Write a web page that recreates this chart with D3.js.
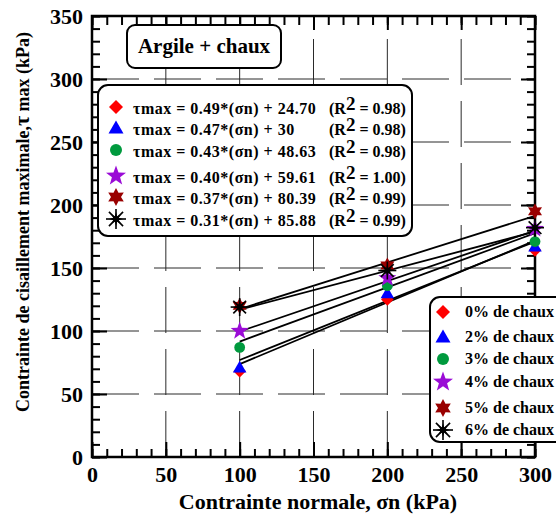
<!DOCTYPE html>
<html>
<head>
<meta charset="utf-8">
<script src="https://cdn.jsdelivr.net/npm/d3@7"></script>
<style>
  html, body { margin: 0; padding: 0; background: #fff; }
  svg { display: block; }
  text { font-family: "Liberation Serif", "Times New Roman", serif; font-weight: bold; fill: #000; }
</style>
</head>
<body>
<svg id="chart" width="556" height="528"></svg>
<script>
// Normal stress levels (kPa)
const sigmaN = [100, 200, 300];

// Lime contents
const limeLabels = ["0% de chaux", "2% de chaux", "3% de chaux", "4% de chaux", "5% de chaux", "6% de chaux"];

// Measured maximum shear stress (kPa) for each lime content
const tau0 = [68, 125, 164];
const tau2 = [71, 130, 167];
const tau3 = [87, 136, 171];
const tau4 = [100, 142, 181];
const tau5 = [120, 152, 195];
const tau6 = [119, 148, 182];

// Linear fits: tau = slope * sigma + intercept
const slopes = [0.49, 0.47, 0.43, 0.40, 0.37, 0.31];
const intercepts = [24.70, 30, 48.63, 59.61, 80.39, 85.88];
const r2Labels = ["0.98", "0.98", "0.98", "1.00", "0.99", "0.99"];

// Axis ticks
const xTicks = [0, 50, 100, 150, 200, 250, 300];
const yTicks = [0, 50, 100, 150, 200, 250, 300, 350];

const seriesValues = [tau0, tau2, tau3, tau4, tau5, tau6];
const colors = ["#ff0000", "#0000ff", "#009a3e", "#9a0bd6", "#990000", "#000000"];
const shapes = ["diamond", "triangle", "circle", "star5", "star6", "asterisk"];

const svg = d3.select("#chart");
const pLeft = 92, pRight = 535, pTop = 16, pBottom = 457;
const x = d3.scaleLinear().domain([0, 300]).range([pLeft, pRight]);
const y = d3.scaleLinear().domain([0, 350]).range([pBottom, pTop]);

// ---- marker path generators ----
function starPath(n, R, r) {
  const p = [];
  for (let i = 0; i < 2 * n; i++) {
    const a = -Math.PI / 2 + i * Math.PI / n;
    const rad = i % 2 === 0 ? R : r;
    p.push([rad * Math.cos(a), rad * Math.sin(a)]);
  }
  return "M" + p.map(d => d[0].toFixed(2) + "," + d[1].toFixed(2)).join("L") + "Z";
}
function drawMarker(g, shape, color, s) {
  if (shape === "diamond") {
    g.append("path").attr("d", `M0,${-7 * s}L${7 * s},0L0,${7 * s}L${-7 * s},0Z`).attr("fill", color);
  } else if (shape === "triangle") {
    g.append("path").attr("d", `M0,${-7.5 * s}L${7.5 * s},${5.5 * s}L${-7.5 * s},${5.5 * s}Z`).attr("fill", color);
  } else if (shape === "circle") {
    g.append("circle").attr("r", 6 * s).attr("fill", color);
  } else if (shape === "star5") {
    g.append("path").attr("d", starPath(5, 10.5 * s, 4.3 * s)).attr("fill", color);
  } else if (shape === "star6") {
    g.append("path").attr("d", starPath(6, 9 * s, 5 * s)).attr("fill", color);
  } else if (shape === "asterisk") {
    const R = 10 * s;
    for (let i = 0; i < 4; i++) {
      const a = i * Math.PI / 4;
      g.append("line")
        .attr("x1", -R * Math.cos(a)).attr("y1", -R * Math.sin(a))
        .attr("x2", R * Math.cos(a)).attr("y2", R * Math.sin(a))
        .attr("stroke", color).attr("stroke-width", 1.6);
    }
    g.append("path").attr("d", starPath(8, 7 * s, 3 * s)).attr("fill", color);
  }
}

// ---- grid ----
const grid = svg.append("g").attr("stroke", "#2a2a2a").attr("stroke-width", 1).attr("fill", "none");
grid.selectAll("line.gx").data(xTicks.filter(d => d > 0 && d < 300)).join("line")
  .attr("x1", d => x(d)).attr("x2", d => x(d))
  .attr("y1", pBottom).attr("y2", pTop)
  .attr("stroke-dasharray", "46,16");
grid.selectAll("line.gy").data(yTicks.filter(d => d > 0 && d < 350)).join("line")
  .attr("x1", pLeft).attr("x2", pRight)
  .attr("y1", d => y(d)).attr("y2", d => y(d))
  .attr("stroke-dasharray", "47,15");

// ---- axes with inner ticks on all four sides ----
function styleAxis(g) {
  g.attr("font-family", null).attr("font-size", null);
  g.select(".domain").remove();
  g.selectAll(".tick line").attr("stroke", "#000").attr("stroke-width", 2);
}
const minorX = d3.range(0, 301, 10), minorY = d3.range(0, 351, 10);

svg.append("g").attr("transform", `translate(0,${pBottom})`)
  .call(d3.axisBottom(x).tickValues(minorX).tickSize(-8).tickFormat(""))
  .call(styleAxis);
const xAxis = svg.append("g").attr("transform", `translate(0,${pBottom})`)
  .call(d3.axisBottom(x).tickValues(xTicks).tickSizeInner(-15).tickSizeOuter(0).tickPadding(9))
  .call(styleAxis);
xAxis.selectAll("text").style("font-size", "22px");

svg.append("g").attr("transform", `translate(0,${pTop})`)
  .call(d3.axisTop(x).tickValues(minorX).tickSize(-9).tickFormat(""))
  .call(styleAxis);
svg.append("g").attr("transform", `translate(0,${pTop})`)
  .call(d3.axisTop(x).tickValues(xTicks).tickSize(-14).tickFormat(""))
  .call(styleAxis);

svg.append("g").attr("transform", `translate(${pLeft},0)`)
  .call(d3.axisLeft(y).tickValues(minorY).tickSize(-8).tickFormat(""))
  .call(styleAxis);
const yAxis = svg.append("g").attr("transform", `translate(${pLeft},0)`)
  .call(d3.axisLeft(y).tickValues(yTicks).tickSizeInner(-15).tickSizeOuter(0).tickPadding(9))
  .call(styleAxis);
yAxis.selectAll("text").style("font-size", "22px");

svg.append("g").attr("transform", `translate(${pRight},0)`)
  .call(d3.axisRight(y).tickValues(minorY).tickSize(-8).tickFormat(""))
  .call(styleAxis);
svg.append("g").attr("transform", `translate(${pRight},0)`)
  .call(d3.axisRight(y).tickValues(yTicks).tickSize(-14).tickFormat(""))
  .call(styleAxis);

// frame
svg.append("rect").attr("x", pLeft).attr("y", pTop)
  .attr("width", pRight - pLeft).attr("height", pBottom - pTop)
  .attr("fill", "none").attr("stroke", "#000").attr("stroke-width", 2.5);

// ---- fitted lines ----
const fitG = svg.append("g");
slopes.forEach((m, i) => {
  const xs = [d3.min(sigmaN), d3.max(sigmaN)];
  fitG.append("line")
    .attr("x1", x(xs[0])).attr("y1", y(m * xs[0] + intercepts[i]))
    .attr("x2", x(xs[1])).attr("y2", y(m * xs[1] + intercepts[i]))
    .attr("stroke", "#000").attr("stroke-width", 1.8);
});

// ---- measured points ----
const ptsG = svg.append("g");
seriesValues.forEach((vals, i) => {
  vals.forEach((v, j) => {
    const g = ptsG.append("g").attr("transform", `translate(${x(sigmaN[j])},${y(v)})`);
    drawMarker(g, shapes[i], colors[i], 0.9);
  });
});

// ---- title box ----
svg.append("rect").attr("x", 127).attr("y", 25).attr("width", 154).attr("height", 43)
  .attr("rx", 8).attr("fill", "#fff").attr("stroke", "#000").attr("stroke-width", 2);
svg.append("text").attr("x", 204).attr("y", 53).attr("text-anchor", "middle")
  .style("font-size", "21px").text("Argile + chaux");

// ---- equations legend ----
svg.append("rect").attr("x", 98).attr("y", 85).attr("width", 314).attr("height", 151)
  .attr("rx", 10).attr("fill", "#fff").attr("stroke", "#000").attr("stroke-width", 2);
const eqBase = [114, 135, 157, 183, 204, 226];
const fmtB = b => Number.isInteger(b) ? String(b) : b.toFixed(2);
slopes.forEach((m, i) => {
  const g = svg.append("g").attr("transform", `translate(116,${eqBase[i] - 7})`);
  drawMarker(g, shapes[i], colors[i], 1);
  svg.append("text").attr("x", 133).attr("y", eqBase[i]).style("font-size", "16px")
    .style("letter-spacing", "0.5px")
    .text(`τmax = ${m.toFixed(2)}*(σn) + ${fmtB(intercepts[i])}`);
  const t = svg.append("text").attr("x", 329).attr("y", eqBase[i]).style("font-size", "16px");
  t.append("tspan").text("(R");
  t.append("tspan").attr("dy", -4).style("font-size", "19px").text("2");
  t.append("tspan").attr("dy", 4).text(` = ${r2Labels[i]})`);
});

// ---- lime content legend ----
svg.append("rect").attr("x", 430).attr("y", 297).attr("width", 150).attr("height", 145)
  .attr("rx", 10).attr("fill", "#fff").attr("stroke", "#000").attr("stroke-width", 2);
const legBase = [317, 342, 364, 387, 413, 435];
limeLabels.forEach((lab, i) => {
  const g = svg.append("g").attr("transform", `translate(443,${legBase[i] - 5})`);
  drawMarker(g, shapes[i], colors[i], 1);
  svg.append("text").attr("x", 465).attr("y", legBase[i]).style("font-size", "16px").text(lab);
});

// ---- axis titles ----
svg.append("text").attr("x", 318).attr("y", 509).attr("text-anchor", "middle")
  .style("font-size", "22px").text("Contrainte normale, σn (kPa)");
const yt = svg.append("text").attr("transform", "translate(29,222) rotate(-90)")
  .attr("text-anchor", "middle").style("font-size", "18px");
yt.append("tspan").text("Contrainte de cisaillement maximale,");
yt.append("tspan").style("font-size", "22px").text("τ");
yt.append("tspan").text(" max (kPa)");
</script>
</body>
</html>
